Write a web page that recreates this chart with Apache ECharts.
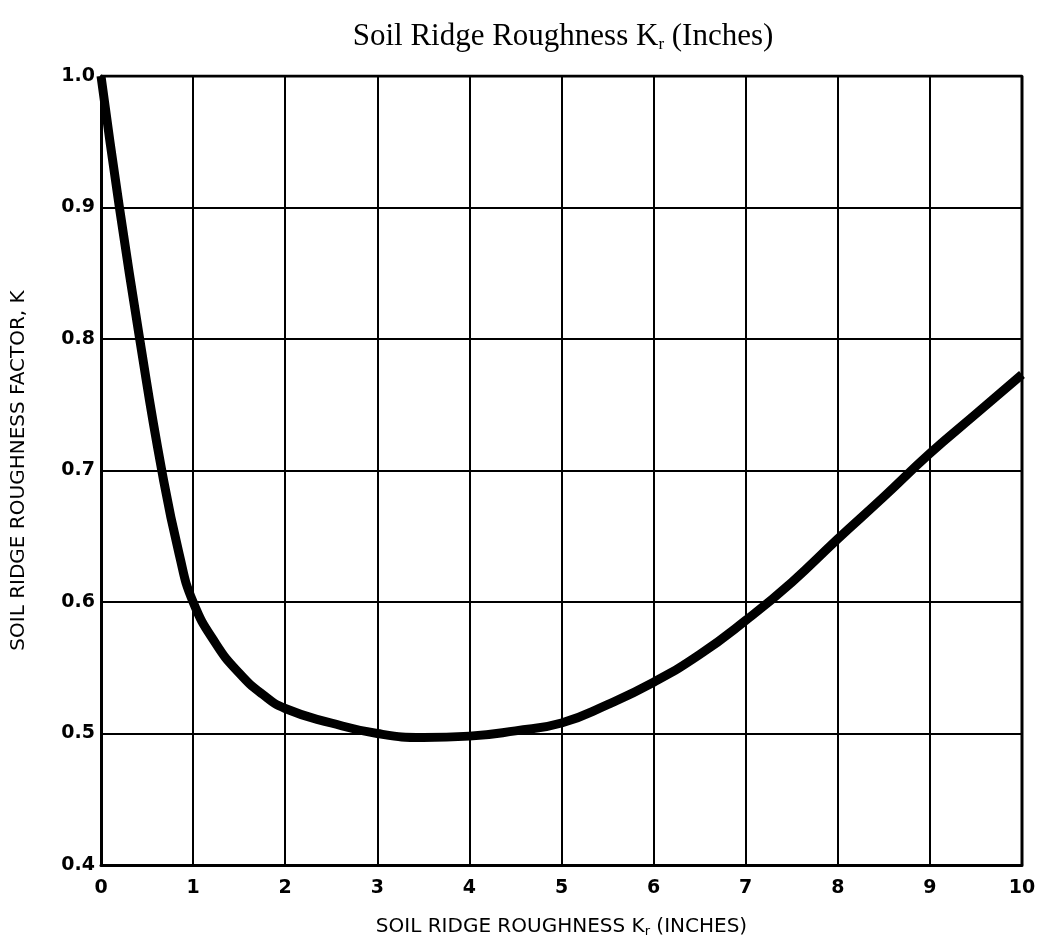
<!DOCTYPE html>
<html>
<head>
<meta charset="utf-8">
<script src="https://cdn.jsdelivr.net/npm/echarts@6/dist/echarts.min.js"></script>
<style>
html,body{margin:0;padding:0;background:#fff;}
#chart{width:1042px;height:947px;}
</style>
</head>
<body>
<div id="chart"></div>
<script>
// Data
const roughnessKr = [0, 0.2, 0.42, 0.66, 0.85, 1.0, 1.25, 1.5, 1.75, 2, 2.5, 3, 3.5, 4, 4.5, 5, 5.5, 6, 6.5, 7, 7.5, 8, 8.5, 9, 9.5, 10];
const factorK    = [1.0, 0.9, 0.8, 0.7, 0.636, 0.6, 0.568, 0.546, 0.53, 0.519, 0.508, 0.5, 0.497, 0.498, 0.502, 0.508, 0.522, 0.539, 0.56, 0.586, 0.615, 0.648, 0.68, 0.713, 0.743, 0.773];
const xTicks = [0, 1, 2, 3, 4, 5, 6, 7, 8, 9, 10];
const yTicks = [0.4, 0.5, 0.6, 0.7, 0.8, 0.9, 1.0];

const chart = echarts.init(document.getElementById('chart'));
const sans = 'DejaVu Sans';
chart.setOption({
  backgroundColor: '#fff',
  animation: false,
  title: {
    text: '{a|Soil Ridge Roughness K}{s|r}{a| (Inches)}',
    left: 558, top: 15, textAlign: 'center',
    textStyle: {
      fontWeight: 'normal',
      rich: {
        a: {fontFamily: 'Liberation Serif', fontWeight: 'normal', fontSize: 31, color: '#000', lineHeight: 34},
        s: {fontFamily: 'Liberation Serif', fontWeight: 'normal', fontSize: 17, color: '#000', padding: [15, 0, 0, 0], lineHeight: 34}
      }
    }
  },
  grid: {left: 101, right: 20, top: 76, bottom: 82, outerBoundsMode: 'none', containLabel: false},
  xAxis: {
    type: 'value', min: xTicks[0], max: xTicks[xTicks.length - 1], interval: 1,
    name: '{a|SOIL RIDGE ROUGHNESS K}{s|r}{a| (INCHES)}',
    nameLocation: 'middle', nameGap: 51,
    nameTextStyle: {
      rich: {
        a: {fontFamily: sans, fontSize: 20, color: '#000'},
        s: {fontFamily: sans, fontSize: 13, color: '#000', padding: [9, 0, 0, 0]}
      }
    },
    axisLine: {show: true, lineStyle: {color: '#000', width: 3}},
    axisTick: {show: false},
    axisLabel: {color: '#000', fontFamily: sans, fontWeight: 'bold', fontSize: 19, margin: 14},
    splitLine: {show: true, lineStyle: {color: '#000', width: 2}}
  },
  yAxis: {
    type: 'value', min: yTicks[0], max: yTicks[yTicks.length - 1], interval: 0.1,
    name: 'SOIL RIDGE ROUGHNESS FACTOR, K',
    nameLocation: 'middle', nameGap: 72, nameRotate: 90,
    nameTextStyle: {fontFamily: sans, fontSize: 20, color: '#000'},
    axisLine: {show: true, lineStyle: {color: '#000', width: 3}},
    axisTick: {show: false},
    axisLabel: {color: '#000', fontFamily: sans, fontWeight: 'bold', fontSize: 19, margin: 6,
      formatter: v => v.toFixed(1)},
    splitLine: {show: true, lineStyle: {color: '#000', width: 2}}
  },
  series: [
    {type: 'line', data: roughnessKr.map((x, i) => [x, factorK[i]]),
     smooth: 0.5, showSymbol: false, symbol: 'none',
     lineStyle: {color: '#000', width: 9}},
    // top/right frame lines
    {type: 'line', data: [[0, 1.0], [10, 1.0], [10, 0.4]], showSymbol: false, symbol: 'none',
     lineStyle: {color: '#000', width: 3}, silent: true, z: 1}
  ]
});
</script>
</body>
</html>
